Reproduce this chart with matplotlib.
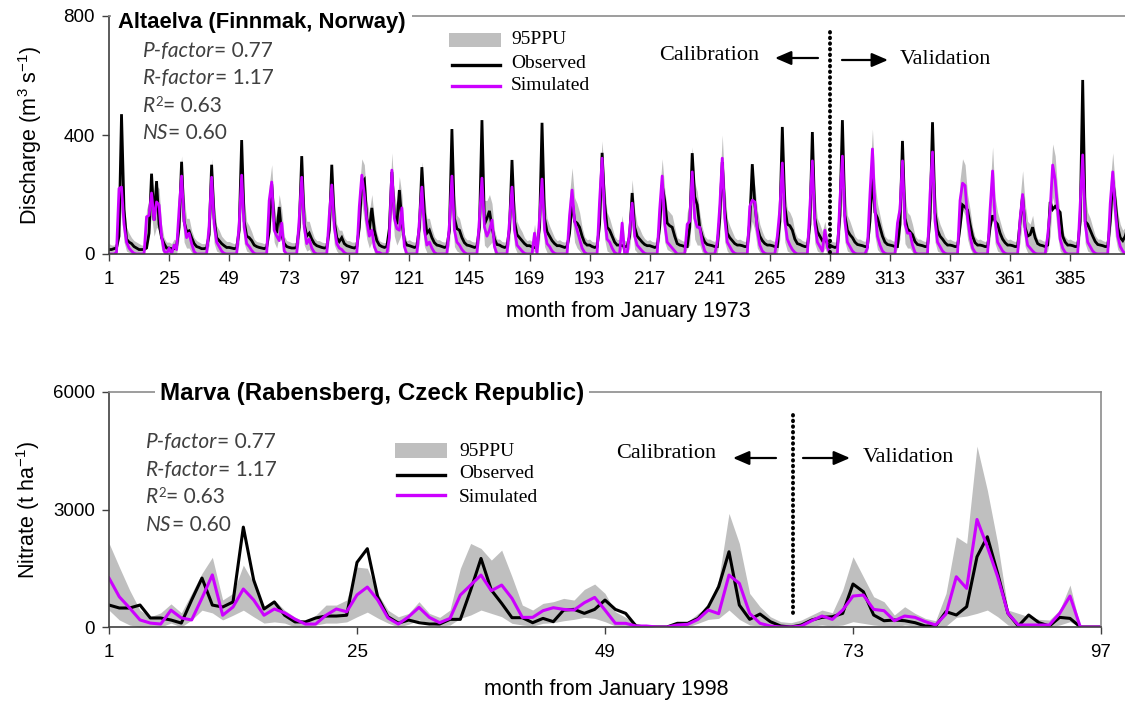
import matplotlib
matplotlib.use("Agg")
import matplotlib.pyplot as plt
from matplotlib.lines import Line2D
from matplotlib.patches import Rectangle
import numpy as np

plt.rcParams['font.family'] = ['Liberation Sans', 'DejaVu Sans']
plt.rcParams['mathtext.fontset'] = 'custom'
plt.rcParams['mathtext.rm'] = 'Liberation Sans'
plt.rcParams['mathtext.it'] = 'Liberation Sans:italic'

# ---------------- Altaelva monthly discharge (m3/s), one row per year from 1973 ----------------
obs_q = [
    [15, 15, 18, 20, 60, 470, 150, 50, 40, 35, 25, 20],
    [15, 15, 15, 20, 70, 270, 113, 245, 100, 55, 35, 20],
    [20, 18, 18, 25, 90, 310, 110, 75, 78, 55, 35, 25],
    [22, 18, 18, 20, 65, 300, 120, 55, 45, 35, 28, 22],
    [22, 20, 18, 20, 80, 383, 110, 60, 55, 45, 30, 25],
    [22, 20, 18, 22, 75, 235, 110, 70, 158, 65, 35, 25],
    [22, 20, 20, 22, 90, 329, 100, 60, 70, 50, 35, 28],
    [25, 22, 20, 22, 80, 300, 110, 55, 42, 55, 35, 28],
    [25, 22, 20, 25, 90, 240, 250, 120, 80, 155, 80, 45],
    [30, 25, 22, 25, 85, 276, 130, 100, 215, 110, 45, 30],
    [28, 25, 22, 25, 90, 292, 140, 70, 80, 55, 38, 30],
    [28, 25, 22, 25, 80, 420, 120, 85, 80, 55, 38, 30],
    [28, 25, 22, 25, 90, 450, 100, 120, 145, 90, 50, 32],
    [30, 25, 22, 25, 85, 316, 110, 65, 55, 45, 35, 28],
    [28, 24, 22, 25, 90, 441, 120, 75, 60, 45, 35, 28],
    [28, 25, 22, 25, 70, 181, 110, 104, 90, 60, 38, 30],
    [30, 25, 22, 25, 100, 340, 170, 90, 80, 60, 40, 30],
    [30, 28, 25, 25, 60, 205, 90, 60, 50, 40, 32, 28],
    [28, 25, 22, 25, 90, 232, 180, 104, 95, 90, 60, 35],
    [30, 28, 25, 25, 90, 339, 192, 165, 90, 60, 40, 32],
    [30, 28, 25, 25, 120, 309, 150, 70, 55, 45, 35, 30],
    [30, 28, 25, 25, 110, 302, 170, 90, 60, 45, 35, 30],
    [30, 28, 25, 25, 110, 427, 160, 100, 95, 80, 50, 35],
    [32, 28, 25, 25, 100, 410, 120, 75, 60, 45, 55, 35],
    [30, 25, 22, 25, 130, 450, 130, 80, 65, 55, 40, 32],
    [30, 28, 25, 25, 110, 265, 140, 121, 90, 60, 40, 32],
    [30, 28, 25, 25, 100, 380, 120, 85, 75, 65, 42, 32],
    [30, 28, 25, 25, 120, 443, 140, 80, 60, 50, 38, 30],
    [30, 28, 25, 25, 90, 165, 158, 148, 100, 60, 38, 30],
    [30, 28, 25, 25, 90, 130, 110, 100, 70, 50, 38, 30],
    [30, 28, 25, 25, 110, 195, 90, 60, 65, 90, 55, 35],
    [30, 28, 25, 30, 175, 150, 160, 150, 140, 60, 40, 30],
    [30, 28, 25, 25, 110, 585, 110, 100, 80, 60, 42, 32],
    [30, 28, 25, 25, 110, 249, 180, 90, 55, 45, 60, 90],
]
sim_q = [
    [0, 0, 0, 5, 220, 225, 100, 40, 20, 10, 2, 0],
    [0, 0, 0, 125, 130, 205, 115, 175, 165, 60, 10, 0],
    [20, 0, 30, 15, 150, 262, 110, 55, 70, 35, 8, 0],
    [0, 0, 0, 0, 95, 258, 100, 40, 25, 10, 2, 0],
    [0, 0, 0, 0, 100, 265, 90, 35, 25, 12, 2, 0],
    [0, 0, 0, 0, 180, 242, 80, 60, 45, 104, 10, 0],
    [0, 0, 0, 0, 120, 258, 90, 35, 50, 20, 5, 0],
    [0, 0, 0, 0, 130, 232, 90, 35, 20, 15, 5, 0],
    [0, 0, 0, 0, 160, 265, 200, 110, 60, 80, 25, 5],
    [5, 0, 0, 0, 55, 282, 120, 85, 80, 155, 25, 0],
    [0, 0, 0, 0, 110, 225, 80, 30, 40, 20, 5, 0],
    [0, 0, 0, 0, 100, 262, 80, 40, 30, 15, 5, 0],
    [0, 0, 0, 0, 120, 255, 90, 60, 80, 114, 25, 0],
    [0, 0, 0, 0, 110, 225, 80, 30, 20, 10, 2, 0],
    [0, 0, 70, 0, 120, 252, 80, 35, 25, 10, 2, 0],
    [0, 0, 0, 0, 130, 215, 110, 80, 50, 20, 5, 0],
    [0, 0, 0, 0, 180, 322, 120, 50, 40, 20, 5, 0],
    [0, 104, 0, 0, 80, 171, 60, 30, 20, 10, 2, 0],
    [0, 0, 0, 0, 150, 262, 100, 40, 30, 20, 10, 0],
    [0, 0, 0, 100, 110, 276, 120, 90, 90, 40, 10, 0],
    [0, 0, 0, 40, 160, 322, 120, 40, 25, 10, 2, 0],
    [0, 0, 0, 0, 160, 181, 175, 80, 30, 10, 2, 0],
    [0, 0, 0, 60, 150, 306, 110, 50, 30, 15, 5, 0],
    [0, 0, 0, 0, 160, 313, 100, 40, 25, 10, 80, 25],
    [0, 0, 0, 0, 180, 329, 110, 40, 25, 10, 2, 0],
    [0, 0, 0, 20, 200, 353, 150, 60, 30, 10, 2, 0],
    [0, 0, 0, 104, 150, 313, 100, 70, 70, 30, 5, 0],
    [0, 0, 0, 0, 200, 343, 110, 40, 25, 10, 2, 0],
    [0, 0, 0, 0, 180, 238, 230, 120, 60, 20, 5, 0],
    [0, 0, 0, 0, 150, 279, 110, 40, 25, 10, 2, 0],
    [0, 0, 0, 0, 120, 200, 80, 30, 20, 10, 2, 0],
    [0, 0, 0, 60, 150, 299, 249, 150, 50, 20, 5, 0],
    [0, 0, 0, 0, 170, 333, 100, 40, 25, 10, 2, 0],
    [0, 0, 0, 0, 170, 276, 150, 60, 25, 10, 0, 0],
]
up_q = [
    [35, 30, 30, 40, 250, 290, 180, 90, 70, 55, 45, 40],
    [35, 30, 30, 150, 180, 260, 200, 230, 220, 100, 55, 40],
    [40, 35, 50, 45, 200, 330, 190, 120, 120, 80, 55, 45],
    [40, 35, 35, 40, 150, 320, 180, 95, 80, 60, 50, 42],
    [42, 38, 35, 40, 170, 330, 190, 110, 95, 75, 50, 42],
    [40, 38, 35, 40, 230, 300, 160, 120, 200, 150, 60, 45],
    [42, 38, 38, 40, 190, 320, 180, 110, 110, 80, 55, 45],
    [45, 40, 38, 40, 190, 300, 180, 100, 80, 80, 55, 45],
    [45, 40, 40, 45, 220, 320, 300, 180, 140, 200, 120, 70],
    [45, 40, 38, 40, 140, 340, 200, 160, 260, 200, 70, 45],
    [48, 42, 40, 45, 190, 310, 200, 120, 120, 85, 58, 48],
    [48, 42, 40, 45, 180, 330, 200, 130, 120, 85, 58, 48],
    [48, 42, 40, 45, 200, 320, 180, 180, 200, 170, 80, 50],
    [50, 42, 40, 45, 180, 300, 180, 110, 90, 75, 55, 45],
    [48, 42, 100, 45, 200, 320, 190, 120, 95, 75, 55, 45],
    [48, 42, 40, 45, 200, 290, 190, 170, 140, 90, 58, 48],
    [50, 42, 40, 45, 250, 380, 230, 140, 120, 90, 60, 48],
    [50, 130, 45, 45, 130, 250, 150, 100, 85, 65, 52, 45],
    [48, 42, 40, 45, 210, 320, 220, 150, 140, 130, 90, 55],
    [50, 45, 42, 140, 180, 360, 240, 210, 140, 90, 60, 50],
    [50, 45, 42, 70, 230, 400, 230, 120, 95, 75, 55, 48],
    [50, 45, 42, 45, 220, 300, 230, 150, 100, 75, 55, 48],
    [50, 45, 42, 90, 210, 370, 220, 150, 140, 120, 75, 55],
    [52, 45, 42, 45, 220, 380, 200, 120, 100, 75, 110, 60],
    [50, 42, 40, 45, 250, 400, 220, 130, 110, 85, 60, 50],
    [50, 45, 42, 60, 270, 420, 240, 170, 130, 90, 60, 50],
    [50, 45, 42, 140, 210, 390, 200, 140, 130, 100, 62, 50],
    [50, 45, 42, 45, 260, 410, 220, 130, 100, 80, 58, 48],
    [50, 45, 42, 45, 250, 320, 300, 200, 150, 90, 58, 48],
    [50, 45, 42, 45, 220, 360, 190, 140, 110, 80, 58, 48],
    [50, 45, 42, 45, 190, 280, 170, 110, 100, 130, 75, 50],
    [50, 45, 42, 90, 230, 370, 330, 210, 130, 80, 58, 48],
    [50, 45, 42, 45, 240, 400, 200, 140, 120, 90, 62, 50],
    [50, 45, 42, 45, 240, 340, 230, 140, 100, 80, 90, 120],
]
lo_q = [
    [0, 0, 0, 0, 60, 150, 40, 10, 5, 0, 0, 0],
    [0, 0, 0, 40, 60, 130, 60, 90, 80, 15, 0, 0],
    [0, 0, 0, 0, 50, 170, 40, 20, 20, 5, 0, 0],
    [0, 0, 0, 0, 30, 160, 35, 10, 5, 0, 0, 0],
    [0, 0, 0, 0, 35, 165, 35, 10, 5, 0, 0, 0],
    [0, 0, 0, 0, 80, 150, 40, 20, 60, 40, 0, 0],
    [0, 0, 0, 0, 40, 160, 30, 10, 15, 0, 0, 0],
    [0, 0, 0, 0, 45, 145, 30, 10, 0, 0, 0, 0],
    [0, 0, 0, 0, 60, 170, 110, 50, 20, 40, 5, 0],
    [0, 0, 0, 0, 10, 175, 60, 30, 50, 70, 0, 0],
    [0, 0, 0, 0, 35, 140, 25, 5, 5, 0, 0, 0],
    [0, 0, 0, 0, 30, 165, 25, 10, 5, 0, 0, 0],
    [0, 0, 0, 0, 40, 160, 30, 20, 30, 40, 0, 0],
    [0, 0, 0, 0, 35, 140, 25, 5, 0, 0, 0, 0],
    [0, 0, 10, 0, 40, 160, 25, 5, 0, 0, 0, 0],
    [0, 0, 0, 0, 50, 130, 40, 20, 10, 0, 0, 0],
    [0, 0, 0, 0, 70, 200, 50, 10, 5, 0, 0, 0],
    [0, 20, 0, 0, 20, 100, 15, 5, 0, 0, 0, 0],
    [0, 0, 0, 0, 55, 160, 40, 15, 10, 5, 0, 0],
    [0, 0, 0, 20, 30, 170, 50, 30, 30, 5, 0, 0],
    [0, 0, 0, 0, 60, 200, 40, 10, 0, 0, 0, 0],
    [0, 0, 0, 0, 60, 110, 80, 20, 5, 0, 0, 0],
    [0, 0, 0, 0, 50, 190, 40, 10, 5, 0, 0, 0],
    [0, 0, 0, 0, 55, 190, 35, 10, 5, 0, 20, 0],
    [0, 0, 0, 0, 70, 200, 40, 10, 5, 0, 0, 0],
    [0, 0, 0, 0, 80, 220, 60, 15, 5, 0, 0, 0],
    [0, 0, 0, 20, 50, 190, 35, 20, 20, 5, 0, 0],
    [0, 0, 0, 0, 80, 210, 40, 10, 5, 0, 0, 0],
    [0, 0, 0, 0, 70, 150, 130, 50, 20, 0, 0, 0],
    [0, 0, 0, 0, 50, 170, 35, 10, 5, 0, 0, 0],
    [0, 0, 0, 0, 40, 120, 25, 5, 0, 0, 0, 0],
    [0, 0, 0, 10, 60, 190, 150, 60, 10, 0, 0, 0],
    [0, 0, 0, 0, 60, 210, 35, 10, 5, 0, 0, 0],
    [0, 0, 0, 0, 60, 170, 60, 15, 5, 0, 0, 0],
]

# ---------------- Marva monthly nitrate load, from January 1998 ----------------
obs_n = [561, 485, 485, 561, 230, 230, 178, 100, 690, 1250, 560, 510,
         640, 2550, 1200, 460, 640, 300, 130, 130, 230, 280, 280, 300,
         1650, 2000, 770, 260, 100, 178, 110, 76, 76, 195, 195, 943,
         1750, 943, 603, 238, 238, 110, 220, 136, 433, 450, 348, 450,
         688, 450, 348, 25, 0, 0, 0, 94, 94, 220, 518, 1028,
         1921, 560, 195, 331, 136, 25, 0, 51, 178, 246, 263, 348,
         1097, 901, 306, 160, 178, 160, 110, 25, 25, 391, 306, 518,
         1794, 2304, 1369, 348, 25, 306, 110, 25, 246, 220, 0, 0, 0]
sim_n = [1250, 770, 485, 180, 100, 75, 430, 230, 180, 740, 1330, 300,
         510, 970, 690, 300, 460, 360, 200, 75, 75, 300, 460, 390,
         820, 1020, 690, 230, 75, 263, 501, 246, 110, 220, 816, 1071,
         1326, 926, 1071, 731, 246, 246, 416, 493, 450, 433, 620, 756,
         433, 94, 94, 25, 25, 0, 0, 51, 68, 195, 433, 340,
         1326, 1114, 348, 94, 25, 0, 0, 25, 160, 280, 195, 433,
         790, 816, 450, 416, 160, 280, 246, 136, 51, 331, 1283, 986,
         2746, 2048, 1283, 348, 51, 51, 51, 51, 348, 790, 0, 0, 0]
up_n = [2140, 1530, 940, 430, 260, 360, 590, 360, 860, 1370, 1780, 690,
        860, 1580, 1120, 510, 690, 430, 250, 130, 300, 560, 560, 690,
        1530, 1500, 860, 430, 260, 348, 646, 348, 246, 433, 1496, 2133,
        2006, 1708, 1963, 1284, 560, 433, 603, 646, 731, 688, 960, 1097,
        858, 391, 246, 94, 25, 0, 0, 94, 136, 348, 518, 1198,
        2900, 2133, 858, 518, 263, 136, 110, 178, 306, 433, 365, 943,
        1794, 1283, 773, 646, 306, 518, 348, 220, 160, 858, 2304, 2133,
        4617, 3494, 2133, 433, 348, 263, 195, 178, 433, 1071, 0, 0, 0]
lo_n = [430, 180, 50, 0, 0, 0, 100, 0, 180, 430, 360, 180,
        300, 430, 260, 100, 130, 100, 0, 0, 50, 100, 100, 130,
        260, 380, 230, 100, 0, 70, 178, 94, 25, 51, 220, 306,
        433, 348, 263, 94, 51, 25, 94, 110, 160, 195, 246, 220,
        136, 25, 0, 0, 0, 0, 0, 0, 0, 94, 195, 220,
        433, 195, 51, 25, 0, 0, 0, 0, 25, 51, 25, 51,
        136, 94, 51, 25, 0, 51, 25, 0, 0, 25, 246, 280,
        348, 433, 263, 51, 0, 0, 0, 0, 51, 136, 0, 0, 0]

q_ticks = [1, 25, 49, 73, 97, 121, 145, 169, 193, 217, 241, 265, 289, 313, 337, 361, 385]
n_ticks = [1, 25, 49, 73, 97]

STATS = [("P-factor", None, "= 0.77"), ("R-factor", None, "= 1.17"),
         ("R", "2", "= 0.63"), ("NS", None, "= 0.60")]

BAND = '#BFBFBF'
OBS_C = 'black'
SIM_C = '#CC00FF'
STAT_FONT = ['Lato', 'DejaVu Sans']
SERIF = ['Liberation Serif', 'DejaVu Serif']

W, H = 1125, 702
fig = plt.figure(figsize=(W / 100, H / 100), dpi=100)


def fx(px):
    return px / W


def fy(py):
    return 1 - py / H


ax1 = fig.add_axes([fx(109), fy(254), fx(1125) - fx(109), fy(16) - fy(254)])
ax2 = fig.add_axes([fx(109), fy(627), fx(1101) - fx(109), fy(392) - fy(627)])

# ---- series ----
oq = np.ravel(obs_q)
sq = np.ravel(sim_q)
uq = np.ravel(up_q)
lq = np.ravel(lo_q)
mq = np.arange(1, len(oq) + 1)
ax1.fill_between(mq, lq, uq, color=BAND, lw=0)
ax1.plot(mq, oq, color=OBS_C, lw=2.0, solid_joinstyle='miter')
ax1.plot(mq, sq, color=SIM_C, lw=2.0)

mn = np.arange(1, len(obs_n) + 1)
ax2.fill_between(mn, lo_n, up_n, color=BAND, lw=0)
ax2.plot(mn, obs_n, color=OBS_C, lw=2.2)
ax2.plot(mn, sim_n, color=SIM_C, lw=2.2)

# ---- axes styling ----
for ax, xt, xmax, ymax, yt in [(ax1, q_ticks, 406.9, 800, [0, 400, 800]),
                               (ax2, n_ticks, 97, 6000, [0, 3000, 6000])]:
    ax.set_xlim(1, xmax)
    ax.set_ylim(0, ymax)
    ax.set_xticks(xt)
    ax.set_yticks(yt)
    ax.spines['left'].set_color('#404040')
    ax.spines['bottom'].set_color('#404040')
    ax.spines['left'].set_linewidth(1.2)
    ax.spines['bottom'].set_linewidth(1.2)
    ax.spines['top'].set_color('#8c8c8c')
    ax.spines['top'].set_linewidth(1.2)
    ax.spines['right'].set_color('#8c8c8c')
    ax.spines['right'].set_linewidth(1.2)
    ax.tick_params(axis='both', direction='out', length=5, width=1, color='#404040',
                   labelsize=13.5, labelcolor='black')
    ax.tick_params(axis='x', pad=7)
    ax.tick_params(axis='y', pad=5)
ax1.spines['right'].set_visible(False)

ax1.set_ylabel("Discharge (m$^{3}$ s$^{-1}$)", fontsize=15.5)
ax2.set_ylabel("Nitrate (t ha$^{-1}$)", fontsize=15.5)
ax1.set_xlabel("month from January 1973", fontsize=15.5)
ax2.set_xlabel("month from January 1998", fontsize=15.5)
ax1.yaxis.set_label_coords(-(109 - 30) / 1016, 0.5)
ax2.yaxis.set_label_coords(-(109 - 28) / 992, 0.5)
ax1.xaxis.set_label_coords((628 - 109) / 1016, -(312 - 254) / 238)
ax2.xaxis.set_label_coords((606 - 109) / 992, -(689 - 627) / 235)
for lab in (ax1.yaxis.label, ax2.yaxis.label, ax1.xaxis.label, ax2.xaxis.label):
    lab.set_va('center')

# ---- panel titles sitting on the top frame line ----
ax1.annotate("Altaelva (Finnmak, Norway)", xy=(0, 1), xycoords='axes fraction',
             xytext=(9 * 0.72, -12 * 0.72), textcoords='offset points',
             fontsize=15.8, fontweight='bold', va='baseline', ha='left',
             bbox=dict(boxstyle='square,pad=0.3', fc='white', ec='none'), zorder=5)
ax2.annotate("Marva (Rabensberg, Czeck Republic)", xy=(0, 1), xycoords='axes fraction',
             xytext=(51 * 0.72, -8 * 0.72), textcoords='offset points',
             fontsize=17.4, fontweight='bold', va='baseline', ha='left',
             bbox=dict(boxstyle='square,pad=0.2', fc='white', ec='none'), zorder=5)


# ---- goodness-of-fit statistics ----
def stat_block(ax, x_px, base_px, step):
    for i, (name, sup, rest) in enumerate(STATS):
        y = H - (base_px + i * step)
        t1 = ax.annotate(name, xy=(x_px, y), xycoords='figure pixels', fontsize=15,
                         fontstyle='italic', family=STAT_FONT, color='#404040',
                         va='baseline', ha='left')
        anchor_x = t1
        if sup:
            anchor_x = ax.annotate(sup, xy=(1, 1), xycoords=t1, fontsize=9.5,
                                   family=STAT_FONT, color='#404040', va='top', ha='left',
                                   xytext=(0.5, 0), textcoords='offset points')
        ax.annotate(rest, xy=(1, 0), xycoords=(anchor_x, t1), fontsize=15,
                    family=STAT_FONT, color='#404040', va='bottom', ha='left')


stat_block(ax1, 143, 57, 27.3)
stat_block(ax2, 146, 448, 27.7)


# ---- legends ----
def legend_block(patch_x, patch_y, line_x, line_ys, text_x, text_ys):
    fig.add_artist(Rectangle((fx(patch_x[0]), fy(patch_y[1])),
                             fx(patch_x[1]) - fx(patch_x[0]), fy(patch_y[0]) - fy(patch_y[1]),
                             transform=fig.transFigure, color=BAND, lw=0))
    for yy, c in zip(line_ys, (OBS_C, SIM_C)):
        fig.add_artist(Line2D([fx(line_x[0]), fx(line_x[1])], [fy(yy), fy(yy)],
                              transform=fig.transFigure, color=c, lw=2.4))
    for yy, s in zip(text_ys, ("95PPU", "Observed", "Simulated")):
        fig.text(fx(text_x), fy(yy), s, family=SERIF, fontsize=14, va='center', ha='left')


legend_block((449, 501), (33, 47), (452, 500), (65, 86), 511, (40, 64, 86))
legend_block((395, 447), (443, 458), (397, 445), (475, 495), 459, (452, 473, 497))


# ---- calibration / validation split ----
def split_marker(ax, x_split, y0, y1, cal_x, cal_y, la, ra, val_x, val_y):
    ax.add_line(Line2D([x_split, x_split], [y0, y1], color='black', lw=2.8,
                       linestyle=(0, (0.15, 1.3)), dash_capstyle='round',
                       clip_on=False, zorder=4))
    fig.text(fx(cal_x), fy(cal_y), "Calibration", family=SERIF, fontsize=16, va='center', ha='left')
    fig.text(fx(val_x), fy(val_y), "Validation", family=SERIF, fontsize=16, va='center', ha='left')
    for (xs, ys, xe, ye) in (la, ra):
        ax.annotate('', xy=(xe, H - ye), xytext=(xs, H - ys), xycoords='figure pixels',
                    textcoords='figure pixels',
                    arrowprops=dict(arrowstyle='-|>,head_length=0.65,head_width=0.28',
                                    mutation_scale=15, lw=1.6, color='black',
                                    shrinkA=0, shrinkB=0))


split_marker(ax1, 289, 746, -10, 659, 55, (818, 58, 775, 58), (842, 60, 888, 60), 900, 60)
split_marker(ax2, 67.2, 5406, 306, 616, 453, (776, 458, 733, 458), (803, 458, 850, 458), 863, 457)

fig.savefig("out.png", dpi=100)
